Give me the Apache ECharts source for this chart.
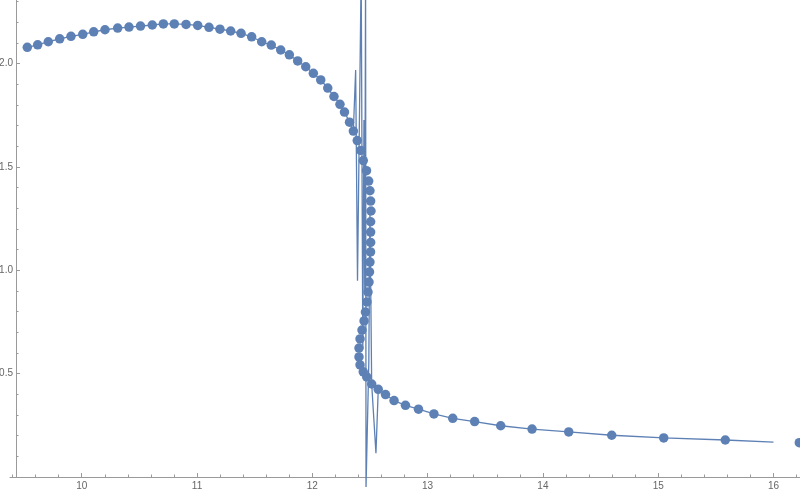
<!DOCTYPE html>
<html>
<head>
<meta charset="utf-8">
<script src="https://cdn.jsdelivr.net/npm/echarts@6/dist/echarts.min.js"></script>
<style>html,body{margin:0;padding:0;background:#fff}#c{width:800px;height:489px}</style>
</head>
<body>
<div id="c"></div>
<script>
// Scatter points (x, y)
var ptX = [9.528,9.618,9.710,9.809,9.907,10.009,10.104,10.202,10.312,10.410,10.510,10.612,10.708,10.803,10.905,11.006,11.104,11.199,11.292,11.382,11.474,11.561,11.644,11.726,11.801,11.873,11.943,12.009,12.073,12.134,12.188,12.240,12.279,12.323,12.356,12.390,12.420,12.442,12.470,12.489,12.500,12.506,12.509,12.506,12.506,12.506,12.505,12.500,12.496,12.492,12.483,12.474,12.461,12.449,12.431,12.414,12.405,12.405,12.414,12.442,12.472,12.515,12.572,12.635,12.709,12.808,12.921,13.055,13.218,13.408,13.634,13.906,14.224,14.597,15.048,15.582,16.224];
var ptY = [2.079,2.091,2.106,2.120,2.132,2.142,2.154,2.164,2.172,2.177,2.182,2.187,2.192,2.192,2.190,2.185,2.176,2.167,2.158,2.147,2.130,2.106,2.090,2.066,2.043,2.013,1.985,1.953,1.921,1.882,1.841,1.803,1.766,1.717,1.674,1.628,1.580,1.531,1.482,1.432,1.385,1.335,1.287,1.235,1.185,1.135,1.089,1.040,0.992,0.943,0.895,0.847,0.798,0.755,0.711,0.668,0.624,0.581,0.542,0.509,0.484,0.450,0.424,0.399,0.370,0.347,0.328,0.305,0.284,0.268,0.248,0.232,0.218,0.202,0.189,0.179,0.166];
// Interpolating curve vertices (x, y)
var lineX = [9.528,9.618,9.710,9.809,9.907,10.009,10.104,10.202,10.312,10.410,10.510,10.612,10.708,10.803,10.905,11.006,11.104,11.199,11.292,11.382,11.474,11.561,11.644,11.726,11.801,11.873,11.943,12.009,12.073,12.134,12.188,12.240,12.279,12.323,12.356,12.376,12.392,12.424,12.438,12.448,12.455,12.462,12.466,12.490,12.500,12.515,12.552,12.572,12.635,12.709,12.808,12.921,13.055,13.218,13.408,13.634,13.906,14.224,14.597,15.048,15.582,16.000];
var lineY = [2.079,2.091,2.106,2.120,2.132,2.142,2.154,2.164,2.172,2.177,2.182,2.187,2.192,2.192,2.190,2.185,2.176,2.167,2.158,2.147,2.130,2.106,2.090,2.066,2.043,2.013,1.985,1.953,1.921,1.882,1.841,1.803,1.766,1.717,1.674,1.969,0.950,2.450,0.620,1.727,0.900,2.450,-0.048,0.550,1.300,0.450,0.115,0.424,0.399,0.370,0.347,0.328,0.305,0.284,0.268,0.248,0.232,0.218,0.202,0.189,0.179,0.169];
var xTicks = [10,11,12,13,14,15,16];
var yTicks = [0.5,1.0,1.5,2.0];

var pts = ptX.map(function(x,i){return [x, ptY[i]];});
var ln = lineX.map(function(x,i){return [x, lineY[i]];});
var blue = '#5E81B5';
var axisCol = '#9a9a9a';
var lab = {color:'#666', fontSize:10, fontFamily:'Liberation Sans, DejaVu Sans, sans-serif'};

var chart = echarts.init(document.getElementById('c'));
chart.setOption({
  animation:false,
  grid:{left:10, right:0, top:0, bottom:12, containLabel:false, outerBoundsMode:'none'},
  xAxis:{
    type:'value', min:9.378, max:16.23, splitNumber:6,
    axisLine:{show:true, onZero:true, lineStyle:{color:axisCol, width:1}},
    axisTick:{show:true, inside:true, length:4, customValues:xTicks, lineStyle:{color:axisCol}},
    minorTick:{show:true, splitNumber:5, length:2.5, lineStyle:{color:axisCol}},
    axisLabel:Object.assign({customValues:xTicks, margin:4, formatter:function(v){return String(Math.round(v));}}, lab),
    splitLine:{show:false}
  },
  yAxis:{
    type:'value', min:0, max:2.308, interval:0.5, offset:-6,
    axisLine:{show:true, onZero:false, lineStyle:{color:axisCol, width:1}},
    axisTick:{show:true, inside:true, length:4, customValues:yTicks, lineStyle:{color:axisCol}},
    minorTick:{show:true, splitNumber:5, length:2.5, lineStyle:{color:axisCol}},
    axisLabel:Object.assign({customValues:yTicks, margin:3, formatter:function(v){return v.toFixed(1);}}, lab),
    splitLine:{show:false}
  },
  series:[
    {type:'line', data:ln, showSymbol:false, symbol:'none', clip:false,
     lineStyle:{color:blue, width:1.3}, z:2},
    {type:'scatter', data:pts, symbol:'circle', symbolSize:9.5,
     itemStyle:{color:blue, opacity:1}, z:3}
  ]
});
</script>
</body>
</html>
